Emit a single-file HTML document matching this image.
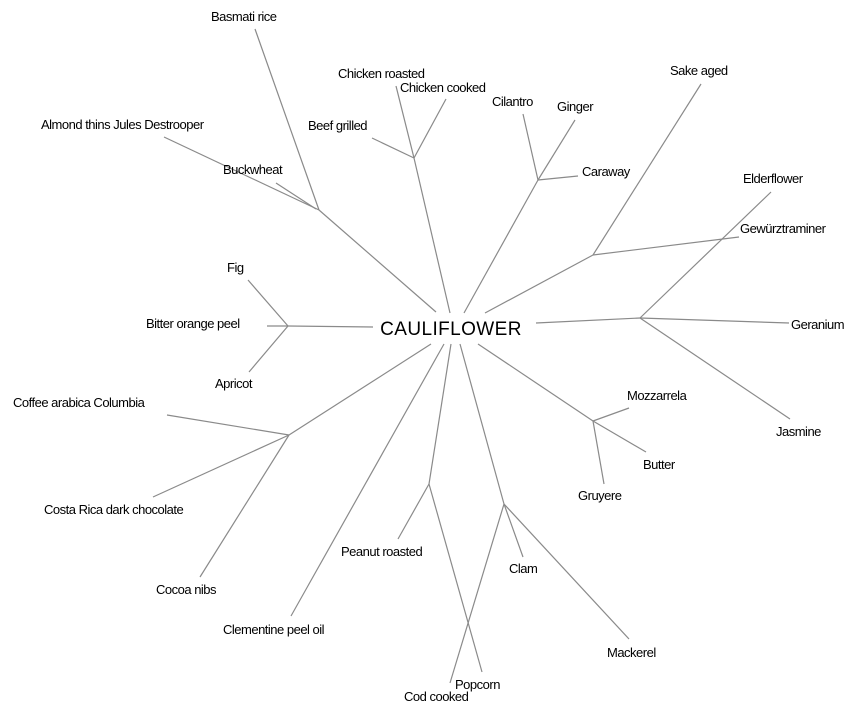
<!DOCTYPE html>
<html><head><meta charset="utf-8"><style>
html,body{margin:0;padding:0;background:#fff}
svg{display:block}
text{font-family:"Liberation Sans",Arial,sans-serif;font-size:13px;fill:#000;letter-spacing:-0.5px}
line{stroke:#8a8a8a;stroke-width:1.2}
</style></head><body>
<svg width="864" height="713" viewBox="0 0 864 713">
<g>
<line x1="255" y1="29" x2="319" y2="210"/>
<line x1="164" y1="137" x2="319" y2="210"/>
<line x1="276" y1="183" x2="316" y2="209"/>
<line x1="319" y1="210" x2="436" y2="312"/>
<line x1="396" y1="86" x2="414" y2="158"/>
<line x1="446" y1="99" x2="414" y2="158"/>
<line x1="372" y1="138" x2="414" y2="158"/>
<line x1="414" y1="158" x2="450" y2="313"/>
<line x1="523" y1="114" x2="538" y2="180"/>
<line x1="575" y1="120" x2="538" y2="180"/>
<line x1="578" y1="176" x2="538" y2="180"/>
<line x1="538" y1="180" x2="464" y2="313"/>
<line x1="701" y1="84" x2="593" y2="255"/>
<line x1="739" y1="237" x2="593" y2="255"/>
<line x1="593" y1="255" x2="485" y2="313"/>
<line x1="771" y1="192" x2="640" y2="318"/>
<line x1="789" y1="323" x2="640" y2="318"/>
<line x1="790" y1="419" x2="640" y2="318"/>
<line x1="640" y1="318" x2="536" y2="323"/>
<line x1="248" y1="280" x2="288" y2="326"/>
<line x1="267" y1="326" x2="288" y2="326"/>
<line x1="249" y1="372" x2="288" y2="326"/>
<line x1="288" y1="326" x2="373" y2="327"/>
<line x1="289" y1="435" x2="431" y2="344"/>
<line x1="167" y1="415" x2="289" y2="435"/>
<line x1="153" y1="497" x2="289" y2="435"/>
<line x1="200" y1="577" x2="289" y2="435"/>
<line x1="291" y1="616" x2="444" y2="344"/>
<line x1="429" y1="484" x2="451" y2="344"/>
<line x1="398" y1="539" x2="429" y2="484"/>
<line x1="482" y1="672" x2="429" y2="484"/>
<line x1="504" y1="504" x2="460" y2="344"/>
<line x1="523" y1="557" x2="504" y2="504"/>
<line x1="629" y1="639" x2="504" y2="504"/>
<line x1="450" y1="683" x2="504" y2="504"/>
<line x1="593" y1="421" x2="478" y2="344"/>
<line x1="629" y1="408" x2="593" y2="421"/>
<line x1="646" y1="452" x2="593" y2="421"/>
<line x1="604" y1="484" x2="593" y2="421"/>
</g>
<text x="451" y="335" text-anchor="middle" style="font-size:19px;letter-spacing:0.4px">CAULIFLOWER</text>
<text x="211" y="21">Basmati rice</text>
<text x="41" y="129">Almond thins Jules Destrooper</text>
<text x="223" y="174">Buckwheat</text>
<text x="338" y="78">Chicken roasted</text>
<text x="400" y="92">Chicken cooked</text>
<text x="308" y="130">Beef grilled</text>
<text x="492" y="106">Cilantro</text>
<text x="557" y="111">Ginger</text>
<text x="582" y="176">Caraway</text>
<text x="670" y="75">Sake aged</text>
<text x="743" y="183">Elderflower</text>
<text x="740" y="233">Gewürztraminer</text>
<text x="791" y="329">Geranium</text>
<text x="776" y="436">Jasmine</text>
<text x="227" y="272">Fig</text>
<text x="146" y="328">Bitter orange peel</text>
<text x="215" y="388">Apricot</text>
<text x="13" y="407">Coffee arabica Columbia</text>
<text x="44" y="514">Costa Rica dark chocolate</text>
<text x="156" y="594">Cocoa nibs</text>
<text x="223" y="634">Clementine peel oil</text>
<text x="341" y="556">Peanut roasted</text>
<text x="455" y="689">Popcorn</text>
<text x="404" y="701">Cod cooked</text>
<text x="509" y="573">Clam</text>
<text x="607" y="657">Mackerel</text>
<text x="627" y="400">Mozzarrela</text>
<text x="643" y="469">Butter</text>
<text x="578" y="500">Gruyere</text>
</svg>
</body></html>
